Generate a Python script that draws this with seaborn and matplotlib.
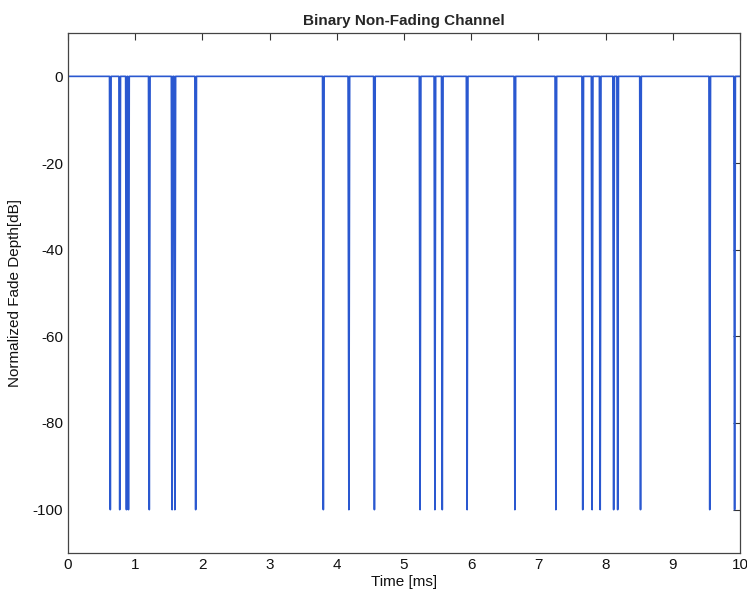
import matplotlib
matplotlib.use("Agg")
import matplotlib.pyplot as plt
import seaborn as sns
import numpy as np
import pandas as pd

# Fade event times (ms) where depth drops to -100 dB
fade_times = [0.63, 0.77, 0.87, 0.90, 1.21, 1.55, 1.59, 1.90, 3.80, 4.18, 4.56,
              5.24, 5.46, 5.57, 5.94, 6.65, 7.26, 7.66, 7.80, 7.92, 8.12, 8.18,
              8.52, 9.55, 9.92]
fade_depth = -100
base_level = 0
x_ticks = list(range(0, 11))
y_ticks = [-100, -80, -60, -40, -20, 0]

half_w = 0.012
t, d = [0.0], [base_level]
for ft in fade_times:
    t += [ft - half_w, ft, ft + half_w]
    d += [base_level, fade_depth, base_level]
t.append(10.0); d.append(base_level)
df = pd.DataFrame({"time": t, "depth": d})

sns.set_style("white")
plt.rcParams['font.family'] = ['Liberation Sans', 'DejaVu Sans']
plt.rcParams['axes.unicode_minus'] = False

fig = plt.figure(figsize=(7.47, 6.06), dpi=100)
ax = fig.add_axes([0.091, 0.0875, 0.8996, 0.858])
sns.lineplot(data=df, x="time", y="depth", ax=ax, estimator=None, sort=False,
             color="#2a58d0", linewidth=1.2)
ax.set_xlim(0, 10)
ax.set_ylim(-110, 10)
ax.set_xticks(x_ticks)
ax.set_yticks(y_ticks)
ax.tick_params(direction="in", top=True, right=True, length=5, width=0.8,
               labelsize=11, color="#333333", labelcolor="#111111")
for s in ax.spines.values():
    s.set_color("#444444")
    s.set_linewidth(0.9)
ax.set_xlabel("Time [ms]", fontsize=11, labelpad=2, color="#111111")
ax.set_ylabel("Normalized Fade Depth[dB]", fontsize=11, labelpad=8, color="#111111")
ax.set_title("Binary Non-Fading Channel", fontsize=11, fontweight="bold", pad=6)
fig.savefig("out.png", dpi=100)
